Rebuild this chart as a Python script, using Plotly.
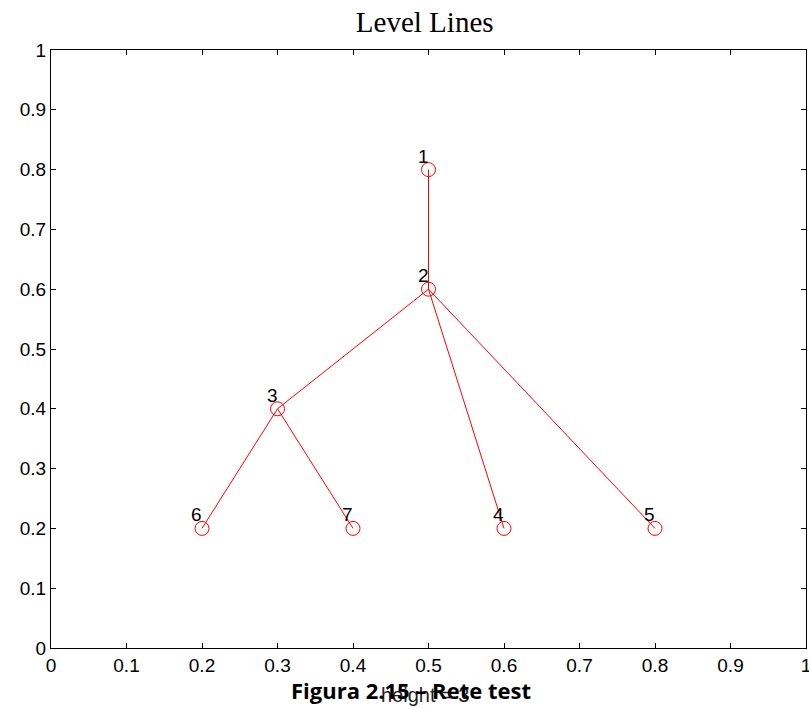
import plotly.graph_objects as go

node_labels = ["1", "2", "3", "4", "5", "6", "7"]
node_x = [0.5, 0.5, 0.3, 0.6, 0.8, 0.2, 0.4]
node_y = [0.8, 0.6, 0.4, 0.2, 0.2, 0.2, 0.2]
edge_from = ["1", "2", "2", "2", "3", "3"]
edge_to = ["2", "3", "4", "5", "6", "7"]
tick_vals = [0, 0.1, 0.2, 0.3, 0.4, 0.5, 0.6, 0.7, 0.8, 0.9, 1]
tick_text = ["0", "0.1", "0.2", "0.3", "0.4", "0.5", "0.6", "0.7", "0.8", "0.9", "1"]

pos = {l: (x, y) for l, x, y in zip(node_labels, node_x, node_y)}
ex, ey = [], []
for a, b in zip(edge_from, edge_to):
    ex += [pos[a][0], pos[b][0], None]
    ey += [pos[a][1], pos[b][1], None]

fig = go.Figure()
fig.add_trace(go.Scatter(x=ex, y=ey, mode="lines",
                         line=dict(color="#ff0000", width=1), hoverinfo="skip"))
fig.add_trace(go.Scatter(x=node_x, y=node_y, mode="markers",
                         marker=dict(symbol="circle-open", size=14, color="#ff0000",
                                     line=dict(width=1, color="#ff0000"))))
for l, x, y in zip(node_labels, node_x, node_y):
    fig.add_annotation(x=x, y=y, text=l, showarrow=False, xanchor="right", yanchor="bottom",
                       xshift=2, yshift=1, font=dict(family="Liberation Sans, Arial", size=19, color="black"))

axis_common = dict(range=[0, 1], showgrid=False, zeroline=False, showline=True, linecolor="black",
                   linewidth=1, mirror="ticks", ticks="inside", ticklen=5, tickcolor="black",
                   tickvals=tick_vals, ticktext=tick_text, automargin=False,
                   ticklabeloverflow="allow",
                   tickfont=dict(family="Liberation Sans, Arial", size=19, color="black"))
fig.update_xaxes(**axis_common)
fig.update_yaxes(**axis_common)

fig.update_layout(
    width=809, height=709,
    margin=dict(l=51, r=3, t=50, b=61, autoexpand=False),
    plot_bgcolor="white", paper_bgcolor="white",
    showlegend=False,
    title=dict(text="Level Lines", x=0.525, xanchor="center", y=0.969, yanchor="middle",
               xref="container", yref="container", automargin=False,
               font=dict(family="Liberation Serif, Times New Roman", size=29, color="black")),
)
fig.add_annotation(xref="paper", yref="paper", x=0.495, y=-0.0786, text="height = 3", showarrow=False,
                   xanchor="center", yanchor="middle",
                   font=dict(family="Liberation Sans, Arial", size=20, color="#222222"))
fig.add_annotation(xref="paper", yref="paper", x=0.477, y=-0.0702, text="<b>Figura 2.15 – Rete test</b>",
                   showarrow=False, xanchor="center", yanchor="middle",
                   font=dict(family="Open Sans, Liberation Sans", size=22, color="black"))

fig.write_html("out.html", config={"displayModeBar": False},
               post_script="document.body.style.margin='0px';document.body.style.overflow='hidden';")
